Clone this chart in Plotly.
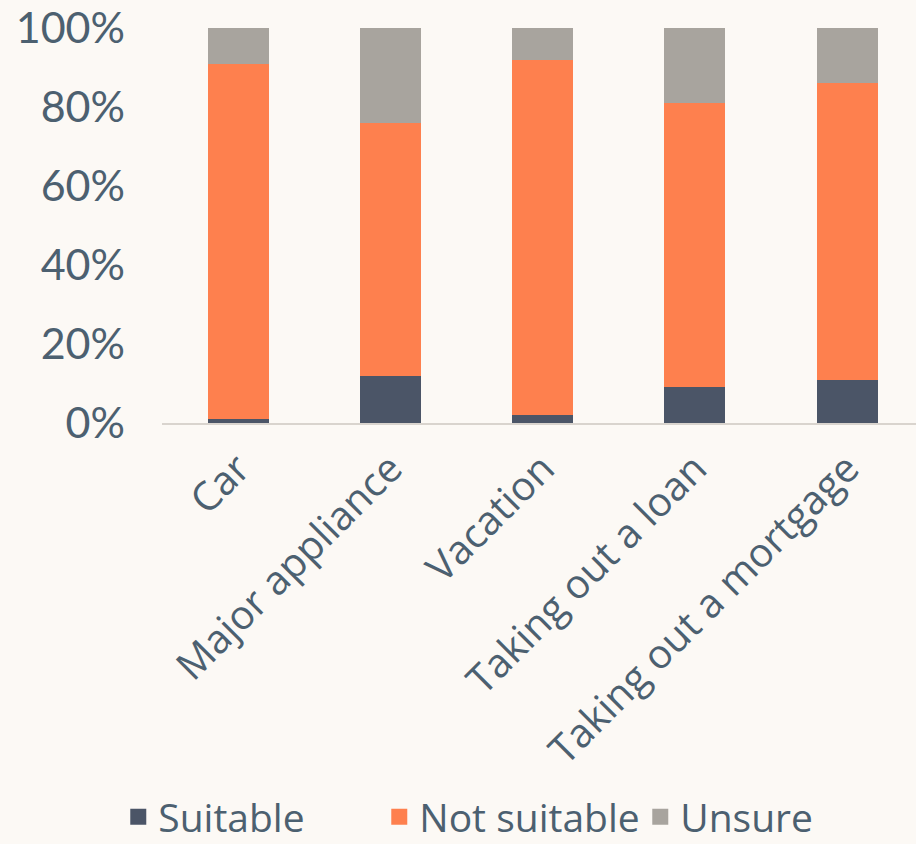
import plotly.graph_objects as go

categories = ["Car", "Major appliance", "Vacation", "Taking out a loan", "Taking out a mortgage"]
suitable = [1, 12, 2, 9, 11]
not_suitable = [90, 64, 90, 72, 75]
unsure = [9, 24, 8, 19, 14]
y_ticks = [0, 20, 40, 60, 80, 100]
y_tick_labels = ["0%", "20%", "40%", "60%", "80%", "100%"]

series = [("Suitable", suitable, "#4B5567"),
          ("Not suitable", not_suitable, "#FE804E"),
          ("Unsure", unsure, "#A8A49E")]

text_color = "#4C6070"
bg = "#FCF9F5"

fig = go.Figure()
for name, vals, col in series:
    fig.add_trace(go.Bar(x=categories, y=vals, name=name, width=0.4, showlegend=False,
                         marker=dict(color=col, line=dict(width=0))))
# legend entries with larger square swatches
for name, vals, col in series:
    fig.add_trace(go.Scatter(x=[categories[0]], y=[None], name=name, mode="markers",
                             marker=dict(symbol="square", size=16, color=col),
                             showlegend=True, hoverinfo="skip"))

fig.update_layout(
    barmode="stack",
    width=916, height=844,
    margin=dict(l=162, r=0, t=28, b=421, pad=0, autoexpand=False),
    paper_bgcolor=bg, plot_bgcolor=bg,
    font=dict(family="Open Sans", color=text_color),
    showlegend=True,
    legend=dict(orientation="h", x=-0.058, xanchor="left", y=-1.078, yanchor="bottom",
                font=dict(family="Open Sans", size=39, color=text_color),
                itemsizing="trace", traceorder="normal", bgcolor="rgba(0,0,0,0)",
                tracegroupgap=0, itemwidth=30, entrywidth=216, entrywidthmode="pixels"),
    xaxis=dict(range=[-0.5, 4.452], showgrid=False, zeroline=False,
               showline=True, linecolor="#D9D4CE", linewidth=2,
               tickangle=-45, tickfont=dict(family="Open Sans", size=40, color=text_color),
               ticks="", ticklabelstandoff=4),
    yaxis=dict(range=[0, 100], showgrid=False, zeroline=False, showline=False,
               tickvals=y_ticks, ticktext=y_tick_labels,
               tickfont=dict(family="Lato", size=43, color=text_color),
               ticks="", ticklabelstandoff=36),
)

fig.write_html("out.html")
